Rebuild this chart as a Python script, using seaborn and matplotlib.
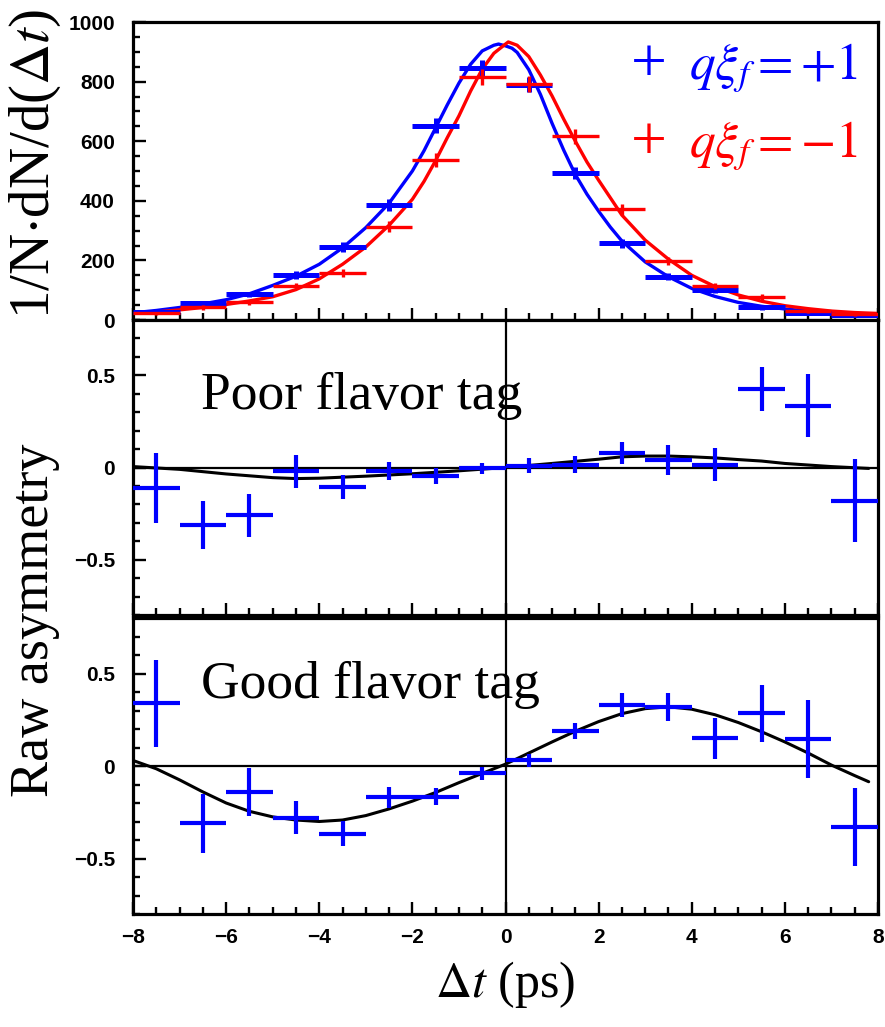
import numpy as np
import pandas as pd
import matplotlib
matplotlib.use("Agg")
import matplotlib.pyplot as plt
import seaborn as sns
from matplotlib.ticker import MultipleLocator

# ---------------- data ----------------
bins = [-7.5, -6.5, -5.5, -4.5, -3.5, -2.5, -1.5, -0.5,
        0.5, 1.5, 2.5, 3.5, 4.5, 5.5, 6.5, 7.5]

# top panel: event distributions
blue_counts = [28, 56, 86, 151, 245, 386, 652, 845, 790, 493, 257, 145, 101, 42, 25, 18]
blue_err = [6, 8, 9, 12, 16, 20, 26, 26, 26, 21, 16, 12, 10, 7, 6, 5]
red_counts = [22, 42, 60, 114, 157, 313, 538, 815, 792, 616, 371, 198, 114, 77, 30, 20]
red_err = [5, 7, 8, 11, 13, 18, 23, 26, 26, 24, 19, 14, 11, 9, 6, 5]

blue_curve_t = [-8, -7.5, -7, -6.5, -6, -5.5, -5, -4.5, -4, -3.5, -3, -2.5, -2, -1.75,
                -1.5, -1.25, -1, -0.75, -0.5, -0.25, -0.15, 0, 0.14, 0.25, 0.5, 0.75,
                1, 1.25, 1.5, 1.75, 2, 2.25, 2.5, 3, 3.5, 4, 4.5, 5, 5.5, 6, 6.5, 7, 7.5, 8]
blue_curve_v = [24, 32, 42, 54, 68, 88, 116, 147, 187, 242, 310, 392, 500, 568,
                645, 722, 795, 858, 903, 922, 926, 920, 912, 898, 840, 757,
                660, 570, 488, 422, 365, 312, 265, 195, 145, 106, 79, 59, 46, 37, 30, 25, 22, 19]

red_curve_t = [-8, -7.5, -7, -6.5, -6, -5.5, -5, -4.5, -4, -3.5, -3, -2.5, -2, -1.75,
               -1.5, -1.25, -1, -0.75, -0.5, -0.25, 0, 0.06, 0.25, 0.5, 0.75, 1,
               1.25, 1.5, 1.75, 2, 2.5, 3, 3.5, 4, 4.5, 5, 5.5, 6, 6.5, 7, 7.5, 8]
red_curve_v = [22, 27, 34, 42, 52, 64, 78, 102, 138, 187, 245, 318, 405, 465,
               535, 612, 685, 768, 842, 895, 926, 933, 922, 884, 822, 752,
               674, 600, 530, 469, 352, 268, 204, 150, 112, 84, 63, 48, 38, 30, 25, 22]

# middle panel: poor flavor tag asymmetry
poor_vals = [-0.113, -0.31, -0.26, -0.02, -0.105, -0.02, -0.047, -0.005,
             0.01, 0.015, 0.08, 0.04, 0.015, 0.425, 0.335, -0.18]
poor_err = [0.19, 0.13, 0.115, 0.09, 0.065, 0.05, 0.045, 0.03,
            0.04, 0.045, 0.06, 0.08, 0.09, 0.12, 0.17, 0.225]
poor_curve_t = [-8, -7, -6, -5, -4.5, -4, -3, -2, -1, 0, 1, 2, 2.5, 3, 3.5, 4,
                4.5, 5, 5.5, 6, 7, 7.8]
poor_curve_v = [0.005, -0.01, -0.035, -0.055, -0.06, -0.058, -0.047, -0.034, -0.018,
                0.0, 0.022, 0.045, 0.058, 0.062, 0.062, 0.058, 0.052, 0.043, 0.035,
                0.022, 0.005, -0.005]

# bottom panel: good flavor tag asymmetry
good_vals = [0.34, -0.31, -0.14, -0.28, -0.365, -0.17, -0.165, -0.04,
             0.03, 0.19, 0.33, 0.32, 0.15, 0.285, 0.145, -0.33]
good_err = [0.235, 0.16, 0.13, 0.09, 0.07, 0.055, 0.045, 0.035,
            0.035, 0.045, 0.065, 0.075, 0.11, 0.155, 0.21, 0.21]
good_curve_t = [-8, -7.5, -7, -6.5, -6, -5.5, -5, -4.5, -4, -3.5, -3, -2.5, -2, -1.5,
                -1, -0.5, 0, 0.5, 1, 1.5, 2, 2.5, 3, 3.5, 4, 4.5, 5, 5.5, 6, 6.5,
                7, 7.5, 7.8]
good_curve_v = [0.03, -0.015, -0.075, -0.14, -0.20, -0.245, -0.275, -0.292, -0.30, -0.292,
                -0.268, -0.232, -0.19, -0.143, -0.09, -0.04, 0.01, 0.07, 0.13,
                0.188, 0.24, 0.283, 0.31, 0.32, 0.307, 0.277, 0.235, 0.185, 0.13,
                0.07, 0.005, -0.052, -0.085]

bin_half_width = 0.5
xticks = [-8, -6, -4, -2, 0, 2, 4, 6, 8]
top_yticks = [0, 200, 400, 600, 800, 1000]
asym_yticks = [-0.5, 0, 0.5]
legend_labels = [r"$q\xi_f = +1$", r"$q\xi_f = -1$"]
panel_labels = ["Poor flavor tag", "Good flavor tag"]

# ---------------- style ----------------
sns.set_theme(style="white")
plt.rcParams["font.family"] = ["Liberation Serif", "DejaVu Serif"]
plt.rcParams["mathtext.fontset"] = "stix"
plt.rcParams["axes.linewidth"] = 2.3
plt.rcParams["text.color"] = "black"

BLUE = "#0000ff"
RED = "#ff0000"

fig = plt.figure(figsize=(8.85, 10.27), dpi=100)
L, W = 133 / 885, 745 / 885
ax_top = fig.add_axes([L, 1 - 320 / 1027, W, 298 / 1027])
ax_mid = fig.add_axes([L, 1 - 615 / 1027, W, 295 / 1027])
ax_bot = fig.add_axes([L, 1 - 914 / 1027, W, 296 / 1027])

tickfont = dict(family=["Liberation Sans", "DejaVu Sans"], weight="bold", size=15,
                color="black")

for ax in (ax_top, ax_mid, ax_bot):
    ax.set_facecolor("white")
    for s in ax.spines.values():
        s.set_color("black")
        s.set_linewidth(2.3)
    ax.set_xlim(-8, 8)
    ax.set_xticks(xticks)
    ax.xaxis.set_minor_locator(MultipleLocator(0.5))
    ax.tick_params(axis="both", which="both", direction="in", top=False, right=False,
                   bottom=True, left=True, color="black", width=1.7)
    ax.tick_params(axis="both", which="major", length=9)
    ax.tick_params(axis="both", which="minor", length=5)
    ax.tick_params(axis="y", pad=13)
    ax.tick_params(axis="x", pad=10)
    ax.grid(False)

# ---------------- top panel ----------------
df_b = pd.DataFrame({"t": blue_curve_t, "v": blue_curve_v})
df_r = pd.DataFrame({"t": red_curve_t, "v": red_curve_v})
sns.lineplot(data=df_b, x="t", y="v", ax=ax_top, color=BLUE, lw=2.4, estimator=None, sort=False)
sns.lineplot(data=df_r, x="t", y="v", ax=ax_top, color=RED, lw=2.4, estimator=None, sort=False)
ax_top.errorbar(bins, blue_counts, xerr=bin_half_width, yerr=blue_err, fmt="none",
                ecolor=BLUE, elinewidth=3.6, capsize=0, zorder=3)
ax_top.errorbar(bins, red_counts, xerr=bin_half_width, yerr=red_err, fmt="none",
                ecolor=RED, elinewidth=2.4, capsize=0, zorder=4)
ax_top.set_ylim(0, 1000)
ax_top.set_yticks(top_yticks)
ax_top.yaxis.set_minor_locator(MultipleLocator(50))
ax_top.set_xticklabels([])
ax_top.set_yticklabels([str(v) for v in top_yticks], **tickfont)
ax_top.set_xlabel("")
ax_top.set_ylabel("")

# legend drawn as text
for (lbl, col, yv) in [(legend_labels[0], BLUE, 808), (legend_labels[1], RED, 548)]:
    ax_top.text(3.08, yv - 10, "+", color=col, fontsize=46, ha="center", va="baseline",
                family=["Liberation Serif"])
    ax_top.text(3.95, yv, lbl, color=col, fontsize=37, ha="left", va="baseline")

# ---------------- asymmetry panels ----------------
for ax, vals, errs, ct, cv, lab, ly in [
    (ax_mid, poor_vals, poor_err, poor_curve_t, poor_curve_v, panel_labels[0], 0.32),
    (ax_bot, good_vals, good_err, good_curve_t, good_curve_v, panel_labels[1], 0.37),
]:
    ax.axhline(0, color="black", lw=1.6, zorder=1)
    ax.axvline(0, color="black", lw=1.6, zorder=1)
    dfc = pd.DataFrame({"t": ct, "v": cv})
    sns.lineplot(data=dfc, x="t", y="v", ax=ax, color="black", lw=2.2,
                 estimator=None, sort=False, zorder=2)
    ax.errorbar(bins, vals, xerr=bin_half_width, yerr=errs, fmt="none",
                ecolor=BLUE, elinewidth=3.0, capsize=0, zorder=3)
    ax.set_ylim(-0.8, 0.8)
    ax.set_yticks(asym_yticks)
    ax.yaxis.set_minor_locator(MultipleLocator(0.1))
    ax.set_yticklabels(["\u22120.5", "0", "0.5"], **tickfont)
    ax.text(-6.55, ly, lab, fontsize=38.5, ha="left", va="baseline", color="black")
    ax.set_xlabel("")
    ax.set_ylabel("")

ax_mid.set_xticklabels([])
ax_bot.set_xticklabels([("\u2212" + str(-v)) if v < 0 else str(v) for v in xticks], **tickfont)

# ---------------- axis titles ----------------
fig.text(35 / 885, 1 - 164 / 1027, r"1/N$\cdot$dN/d($\Delta t$)", rotation=90,
         ha="center", va="center", fontsize=41, color="black")
fig.text(35 / 885, 1 - 620 / 1027, "Raw asymmetry", rotation=90,
         ha="center", va="center", fontsize=39, color="black")
fig.text(505 / 885, 1 - 985 / 1027, r"$\Delta t$ (ps)", ha="center", va="center",
         fontsize=36, color="black")

fig.savefig("out.png", dpi=100, facecolor="white")
